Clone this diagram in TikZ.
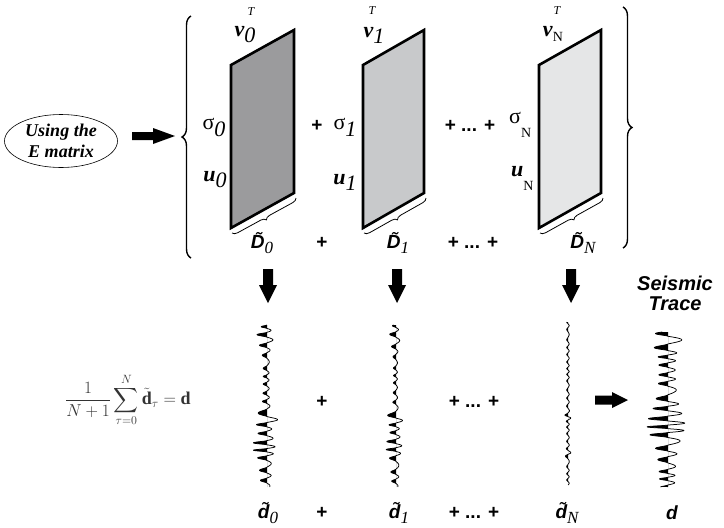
\documentclass[tikz,border=0pt]{standalone}
\usepackage{exscale}
\usepackage{fontspec}
\setmainfont{Liberation Serif}
\setsansfont{Liberation Sans}
\usetikzlibrary{decorations.pathreplacing,shapes.geometric}

\definecolor{gZero}{RGB}{155,155,157}
\definecolor{gOne}{RGB}{200,201,203}
\definecolor{gTwo}{RGB}{229,230,231}

% block arrow: x, y, angle, length, head length, head half width, shaft half width
\newcommand{\blkarrow}[7]{%
  \fill[shift={(#1,#2)}, rotate=#3] (0,-#7) -- (#4-#5,-#7) -- (#4-#5,-#6) -- (#4,0)
    -- (#4-#5,#6) -- (#4-#5,#7) -- (0,#7) -- cycle;}

% seismic trace: cx, y0, y1, cycles, amplitude expr in \q, phase, right factor
\newcommand{\seistrace}[7]{%
  \begin{scope}
    \clip (#1-45,#2-3) rectangle (#1,#3+3);
    \fill plot[domain=0:1, samples=600, variable=\q]
      ({#1-(#5)*(max(sin(360*#4*\q+80*sin(977*\q+#6)+30*sin(2311*\q)),0)^1.6+#7*min(sin(360*#4*\q+80*sin(977*\q+#6)+30*sin(2311*\q)),0))},{#2+\q*(#3-#2)})
      -- (#1,#3) -- (#1,#2) -- cycle;
  \end{scope}
  \draw[line width=0.75pt, line join=round] plot[domain=0:1, samples=600, variable=\q]
      ({#1-(#5)*(max(sin(360*#4*\q+80*sin(977*\q+#6)+30*sin(2311*\q)),0)^1.6+#7*min(sin(360*#4*\q+80*sin(977*\q+#6)+30*sin(2311*\q)),0))},{#2+\q*(#3-#2)});
}

\newcommand{\subit}[1]{\raisebox{-5pt}{\normalfont\rmfamily\itshape\fontsize{17}{17}\selectfont #1}}
\newcommand{\subup}[2]{\raisebox{-#1}{\normalfont\rmfamily\fontsize{14}{14}\selectfont #2}}

\begin{document}
\begin{tikzpicture}[x=1pt,y=-1pt,
  sanslab/.style={inner sep=0pt, font=\fontsize{19}{22}\selectfont\sffamily\bfseries},
  serlab/.style={inner sep=0pt, font=\fontsize{22}{24}\selectfont},
  suplab/.style={inner sep=0pt, font=\fontsize{12}{14}\selectfont\itshape},
  panel/.style={draw=black, line width=2.6pt, line join=miter},
  bigbrace/.style={decorate, decoration={brace, amplitude=9pt}, line width=1.4pt},
  smallbrace/.style={decorate, decoration={brace, amplitude=5pt, mirror}, line width=0.8pt},
]
\useasboundingbox (0,0) rectangle (724,528);

% ellipse and arrow
\node[draw, ellipse, minimum width=113pt, minimum height=53pt, inner sep=0pt, line width=0.6pt,
      align=center, font=\fontsize{18}{20.5}\selectfont\bfseries\itshape] (emat) at (61,141) {Using the\\E matrix};
\blkarrow{132}{136}{0}{43}{22}{8}{4}

% big braces
\draw[bigbrace] (191,258) -- (191,16);
\draw[bigbrace] (623,7) -- (623,248);

% panels
\filldraw[panel, fill=gZero] (231,65) -- (294,30) -- (294,193) -- (231,228) -- cycle;
\filldraw[panel, fill=gOne] (363,65) -- (424,30) -- (424,193) -- (363,228) -- cycle;
\filldraw[panel, fill=gTwo] (539,65) -- (601,30) -- (601,193) -- (539,228) -- cycle;

% small braces
\draw[smallbrace] (232,233) -- (296,198);
\draw[smallbrace] (364,233) -- (426,198);
\draw[smallbrace] (540,233) -- (603,198);

% top labels
\node[suplab] (t0) at (251,12) {T};
\node[suplab] (t1) at (372,11) {T};
\node[suplab] (tn) at (557,11) {T};
\node[serlab] (v0) at (245,35) {\textbf{\textit{v}}\raisebox{-6pt}{\textit{0}}};
\node[serlab] (v1) at (374,35) {\textbf{\textit{v}}\raisebox{-6pt}{\textit{1}}};
\node[serlab] (vn) at (553,34) {\textbf{\textit{v}}\subup{5pt}{N}};

\node[serlab] (s0) at (214,127) {σ\raisebox{-7pt}{\textit{0}}};
\node[serlab] (u0) at (215,180) {\textbf{\textit{u}}\raisebox{-6pt}{\textit{0}}};
\node[sanslab] (pa) at (317,126) {+};
\node[serlab] (s1) at (345,127) {σ\raisebox{-7pt}{\textit{1}}};
\node[serlab] (u1) at (345,182) {\textbf{\textit{u}}\raisebox{-6pt}{\textit{1}}};
\node[sanslab] (pb) at (470,126) {+ ... +};
\node[serlab, anchor=west] (sn) at (509,125) {σ\subup{14pt}{N}};
\node[serlab, anchor=west] (un) at (511,178) {\textbf{\textit{u}}\subup{14pt}{N}};

% D labels
\node[sanslab] (d0l) at (262,243) {\textit{\~{D}}\subit{0}};
\node[sanslab] (pc) at (322,243) {+};
\node[sanslab] (d1l) at (398,243) {\textit{\~{D}}\subit{1}};
\node[sanslab] (pd) at (473,243) {+ ... +};
\node[sanslab] (dnl) at (583,243) {\textit{\~{D}}\subit{N}};

% down arrows
\blkarrow{268}{269}{-90}{34}{18}{9}{5}
\blkarrow{397}{269}{-90}{34}{18}{9}{5}
\blkarrow{571}{269}{-90}{34}{18}{9}{5}

% traces
\seistrace{267}{325}{487}{17}{3+8/(1+((\q-0.08)/0.05)^2)+15/(1+((\q-0.58)/0.025)^2)+11/(1+((\q-0.75)/0.07)^2)+3/(1+((\q-0.93)/0.06)^2)}{0}{0.55}
\seistrace{396}{325}{487}{17}{2+5/(1+((\q-0.08)/0.05)^2)+10/(1+((\q-0.58)/0.025)^2)+8/(1+((\q-0.75)/0.07)^2)+2/(1+((\q-0.93)/0.06)^2)}{40}{0.55}
\seistrace{568}{322}{485}{22}{1.3+3/(1+((\q-0.58)/0.012)^2)+3/(1+((\q-0.81)/0.012)^2)}{90}{0.9}
\seistrace{668}{332}{487}{15}{7+10/(1+((\q-0.06)/0.05)^2)+14/(1+((\q-0.6)/0.12)^2)}{150}{0.8}

% middle row
\node[inner sep=0pt, text=black!80, font=\fontsize{18}{22}\selectfont] (formula) at (128,400)
  {$\displaystyle\frac{1}{N+1}\sum_{\tau=0}^{N}\tilde{\mathbf{d}}_\tau=\mathbf{d}$};
\node[sanslab] (pe) at (322,402) {+};
\node[sanslab] (pf) at (474,402) {+ ... +};
\blkarrow{595}{400}{0}{33}{16}{8}{4.5}
\node[inner sep=0pt, align=center, font=\fontsize{20}{20}\selectfont\sffamily\bfseries\itshape] (seis) at (675,293) {Seismic\\Trace};

% bottom labels
\node[sanslab] (b0) at (268,513) {\textit{\~{d}}\subit{0}};
\node[sanslab] (pg) at (322,513) {+};
\node[sanslab] (b1) at (399,513) {\textit{\~{d}}\subit{1}};
\node[sanslab] (ph) at (474,513) {+ ... +};
\node[sanslab] (bn) at (567,513) {\textit{\~{d}}\subit{N}};
\node[sanslab] (bd) at (672,513) {\textit{d}};
\end{tikzpicture}
\end{document}
